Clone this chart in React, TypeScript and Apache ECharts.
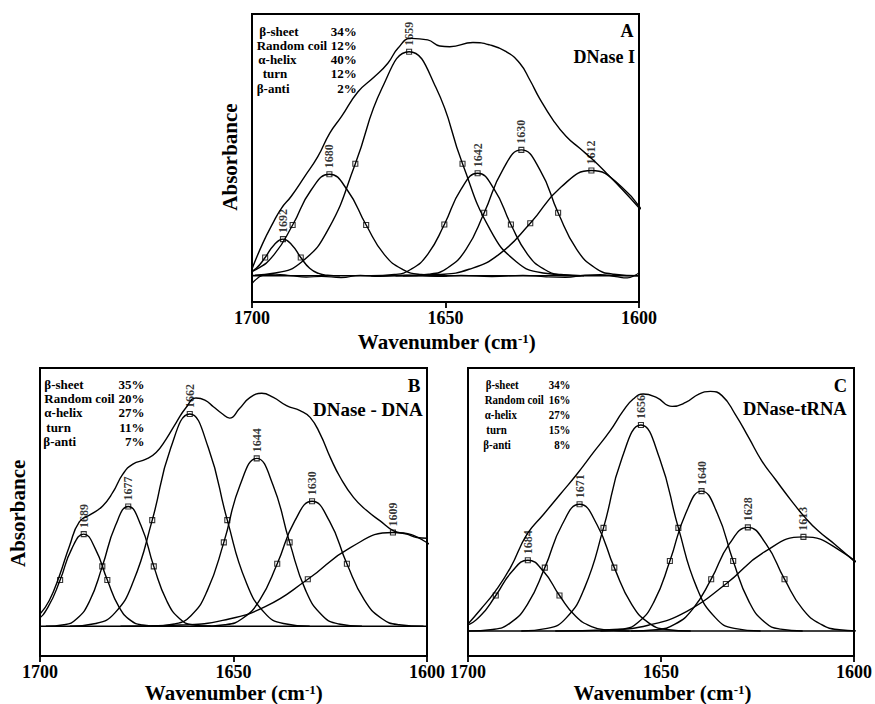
import React, { useEffect, useRef } from 'react';
import * as echarts from 'echarts';

const FONT = "'Liberation Serif', 'Times New Roman', Times, serif";

// ---------- axis ----------
const xMin = 1600;
const xMax = 1700;
const xInterval = 50;

// ---------- inset tables ----------
const structureNames = ['β-sheet', 'Random coil', 'α-helix', 'turn', 'β-anti'];
const percentsA = ['34%', '12%', '40%', '12%', '2%'];
const percentsB = ['35%', '20%', '27%', '11%', '7%'];
const percentsC = ['34%', '16%', '27%', '15%', '8%'];

// ---------- panel A : DNase I ----------
const bandLabelsA = ['1692', '1680', '1659', '1642', '1630', '1612'];
const envelopeA = [[1700, 2.6], [1697.2, 12.5], [1694.6, 20.1], [1692.4, 25.8], [1689.9, 30.3], [1686.4, 37.9], [1683.0, 45.5], [1679.9, 54.5], [1676.9, 60.8], [1672.6, 70.3], [1668.3, 76.1], [1664.9, 81.2], [1662.3, 86.9], [1658.9, 90.7], [1654.6, 90.1], [1651.5, 87.8], [1648.9, 87.5], [1642.9, 89.1], [1638.6, 88.2], [1634.3, 85.6], [1630.8, 81.2], [1628.2, 74.8], [1625.7, 67.8], [1622.2, 59.5], [1618.8, 53.2], [1615.3, 48.7], [1611.9, 44.3], [1608.4, 39.2], [1604.2, 32.8], [1600, 26.0]];
const bandA1692 = [[1706.7, 0], [1703.5, 0.2], [1701.2, 0.9], [1698.9, 2.9], [1696.6, 7.0], [1694.3, 11.8], [1692.0, 14.0], [1689.7, 11.8], [1687.4, 7.0], [1685.1, 2.9], [1682.8, 0.9], [1680.5, 0.2], [1677.3, 0]];
const bandA1680 = [[1710.4, 0], [1703.8, 0.5], [1699.0, 2.4], [1694.3, 8.1], [1689.5, 19.4], [1684.8, 32.6], [1680.0, 38.8], [1675.3, 32.6], [1670.5, 19.4], [1665.8, 8.1], [1661.0, 2.4], [1656.3, 0.5], [1649.6, 0]];
const bandA1659 = [[1703.7, 0], [1694.0, 1.1], [1687.1, 5.4], [1680.2, 18.0], [1673.3, 42.8], [1666.3, 72.0], [1659.4, 85.6], [1652.5, 72.0], [1645.6, 42.8], [1638.6, 18.0], [1631.7, 5.4], [1624.8, 1.1], [1615.1, 0]];
const bandA1642 = [[1669.2, 0], [1663.2, 0.5], [1658.9, 2.5], [1654.6, 8.2], [1650.3, 19.6], [1646.0, 33.0], [1641.7, 39.2], [1637.4, 33.0], [1633.1, 19.6], [1628.8, 8.2], [1624.5, 2.5], [1620.2, 0.5], [1614.2, 0]];
const bandA1630 = [[1661.0, 0], [1654.3, 0.6], [1649.5, 3.0], [1644.7, 10.1], [1640.0, 24.1], [1635.2, 40.5], [1630.4, 48.1], [1625.6, 40.5], [1620.9, 24.1], [1616.1, 10.1], [1611.3, 3.0], [1606.5, 0.6], [1599.8, 0]];
const bandA1612 = [[1662.9, 0], [1651.8, 0.5], [1643.9, 2.5], [1636.0, 8.4], [1628.1, 20.1], [1620.2, 33.8], [1612.3, 40.2], [1604.4, 33.8], [1596.5, 20.1], [1588.6, 8.4], [1580.7, 2.5], [1572.8, 0.5], [1561.7, 0]];
const residualA = [[1700, -3.0], [1698.5, -0.8], [1697, 0.3], [1694, 0.6], [1690, 0.1], [1686, -0.5], [1682, -0.2], [1677, -0.7], [1672, 0.2], [1667, -0.2], [1660, 0.3], [1652, -0.2], [1646, 0.2], [1638, -0.3], [1630, 0.2], [1624, -0.4], [1619, -0.6], [1614, 0.3], [1610, 0.5], [1606, -0.3], [1603, -0.8], [1601, 0.2], [1600, 1.2]];

// ---------- panel B : DNase - DNA ----------
const bandLabelsB = ['1689', '1677', '1662', '1644', '1630', '1609'];
const envelopeB = [[1700, 4.7], [1697.6, 10.0], [1695.0, 19.5], [1692.4, 31.0], [1689.8, 40.5], [1686.8, 43.4], [1683.8, 46.6], [1681.2, 51.8], [1678.6, 58.9], [1676.0, 62.8], [1672.6, 64.7], [1670.0, 67.3], [1667.4, 72.5], [1664.8, 78.9], [1662.2, 84.8], [1659.7, 88.4], [1657.4, 87.6], [1655.2, 85.0], [1653.0, 82.4], [1651.0, 80.6], [1648.5, 84.2], [1645.7, 88.6], [1642.7, 90.2], [1639.7, 88.6], [1636.3, 85.4], [1632.8, 83.5], [1630.2, 80.9], [1627.6, 74.4], [1625.0, 65.4], [1622.4, 57.6], [1619.0, 49.9], [1615.5, 44.7], [1612.1, 40.8], [1608.6, 36.9], [1605.2, 35.7], [1602.6, 34.4], [1600, 34.1]];
const bandB1689 = [[1708.2, 0], [1704.0, 0.5], [1700.9, 2.2], [1697.9, 7.5], [1694.8, 17.9], [1691.8, 30.0], [1688.7, 35.7], [1685.7, 30.0], [1682.6, 17.9], [1679.6, 7.5], [1676.5, 2.2], [1673.5, 0.5], [1669.2, 0]];
const bandB1677 = [[1698.5, 0], [1693.8, 0.6], [1690.5, 2.9], [1687.2, 9.7], [1683.9, 23.2], [1680.5, 39.0], [1677.2, 46.4], [1673.9, 39.0], [1670.6, 23.2], [1667.2, 9.7], [1663.9, 2.9], [1660.6, 0.6], [1655.9, 0]];
const bandB1662 = [[1692.3, 0], [1685.6, 1.1], [1680.7, 5.1], [1675.9, 17.3], [1671.0, 41.1], [1666.2, 69.1], [1661.3, 82.2], [1656.5, 69.1], [1651.6, 41.1], [1646.8, 17.3], [1641.9, 5.1], [1637.1, 1.1], [1630.3, 0]];
const bandB1644 = [[1671.2, 0], [1665.3, 0.9], [1661.0, 4.1], [1656.8, 13.7], [1652.5, 32.5], [1648.3, 54.7], [1644.0, 65.0], [1639.8, 54.7], [1635.5, 32.5], [1631.3, 13.7], [1627.0, 4.1], [1622.8, 0.9], [1616.8, 0]];
const bandB1630 = [[1658.5, 0], [1652.2, 0.6], [1647.7, 3.0], [1643.2, 10.2], [1638.7, 24.2], [1634.2, 40.7], [1629.7, 48.4], [1625.2, 40.7], [1620.7, 24.2], [1616.2, 10.2], [1611.7, 3.0], [1607.2, 0.6], [1600.9, 0]];
const bandB1609 = [[1679.2, 0], [1663.8, 0.5], [1652.8, 2.3], [1641.8, 7.6], [1630.8, 18.2], [1619.8, 30.5], [1608.8, 36.3], [1597.8, 30.5], [1586.8, 18.2], [1575.8, 7.6], [1564.8, 2.3], [1553.8, 0.5], [1538.4, 0]];

// ---------- panel C : DNase-tRNA ----------
const bandLabelsC = ['1684', '1671', '1656', '1640', '1628', '1613'];
const envelopeC = [[1700, 2.7], [1696.7, 8.3], [1692.9, 15.2], [1689.0, 24.1], [1684.7, 36.8], [1680.4, 44.4], [1676.1, 52.0], [1671.8, 59.6], [1667.5, 67.9], [1663.2, 76.1], [1659.8, 83.7], [1657.2, 88.2], [1654.6, 90.1], [1651.2, 88.8], [1647.1, 85.4], [1643.6, 86.9], [1640.2, 90.1], [1637.2, 91.1], [1634.2, 89.5], [1630.8, 82.5], [1627.3, 73.6], [1623.9, 64.7], [1620.4, 57.7], [1616.2, 49.5], [1612.7, 43.2], [1609.3, 38.1], [1605.0, 33.0], [1600, 26.6]];
const bandC1684 = [[1710.9, 0], [1705.1, 0.4], [1701.0, 1.7], [1696.9, 5.6], [1692.8, 13.5], [1688.6, 22.6], [1684.5, 26.9], [1680.4, 22.6], [1676.3, 13.5], [1672.1, 5.6], [1668.0, 1.7], [1663.9, 0.4], [1658.1, 0]];
const bandC1671 = [[1699.9, 0], [1693.6, 0.6], [1689.1, 3.0], [1684.6, 10.1], [1680.1, 24.1], [1675.6, 40.5], [1671.1, 48.2], [1666.6, 40.5], [1662.1, 24.1], [1657.6, 10.1], [1653.1, 3.0], [1648.6, 0.6], [1642.3, 0]];
const bandC1656 = [[1686.2, 0], [1679.5, 1.0], [1674.6, 4.9], [1669.8, 16.4], [1664.9, 39.2], [1660.1, 65.8], [1655.2, 78.3], [1650.4, 65.8], [1645.5, 39.2], [1640.7, 16.4], [1635.8, 4.9], [1631.0, 1.0], [1624.2, 0]];
const bandC1640 = [[1665.7, 0], [1660.0, 0.7], [1655.9, 3.3], [1651.8, 11.2], [1647.7, 26.6], [1643.6, 44.7], [1639.5, 53.2], [1635.4, 44.7], [1631.3, 26.6], [1627.2, 11.2], [1623.1, 3.3], [1619.0, 0.7], [1613.3, 0]];
const bandC1628 = [[1657.9, 0], [1651.3, 0.5], [1646.5, 2.5], [1641.8, 8.3], [1637.0, 19.7], [1632.3, 33.1], [1627.5, 39.4], [1622.8, 33.1], [1618.0, 19.7], [1613.3, 8.3], [1608.5, 2.5], [1603.8, 0.5], [1597.1, 0]];
const bandC1613 = [[1677.4, 0], [1663.4, 0.5], [1653.3, 2.2], [1643.3, 7.5], [1633.2, 17.9], [1623.2, 30.1], [1613.1, 35.8], [1603.1, 30.1], [1593.0, 17.9], [1583.0, 7.5], [1572.9, 2.2], [1562.9, 0.5], [1548.8, 0]];

const baseline = [[1700, 0], [1600, 0]];

const panels = [
  {
    grid: { left: 252, top: 14, width: 387, height: 288 }, yMin: -10,
    envelope: envelopeA, bands: [bandA1692, bandA1680, bandA1659, bandA1642, bandA1630, bandA1612],
    labels: bandLabelsA, residual: residualA,
  },
  {
    grid: { left: 40, top: 368, width: 387, height: 288 }, yMin: -11.5,
    envelope: envelopeB, bands: [bandB1689, bandB1677, bandB1662, bandB1644, bandB1630, bandB1609],
    labels: bandLabelsB, residual: null,
  },
  {
    grid: { left: 468, top: 368, width: 388, height: 288 }, yMin: -9.5,
    envelope: envelopeC, bands: [bandC1684, bandC1671, bandC1656, bandC1640, bandC1628, bandC1613],
    labels: bandLabelsC, residual: null,
  },
];

// text layout (pixel positions)
const tableLayouts = [
  { percents: percentsA, nameX: 256.7, indents: [2.6, 0, 1.6, 6, 0], pctRight: 356.7, y0: 31, dy: 14.3, scaleX: 1 },
  { percents: percentsB, nameX: 43.3, indents: [1, 1, 1, 3, 0], pctRight: 144.5, y0: 384, dy: 14.4, scaleX: 1 },
  { percents: percentsC, nameX: 483.3, indents: [2.4, 1.4, 1.4, 3, 0], pctRight: 570.5, y0: 385, dy: 14.8, scaleX: 0.84 },
];

const headings = [
  { letter: 'A', name: 'DNase I', lx: 633.5, ly: 31, nx: 635, ny: 57, size: 18 },
  { letter: 'B', name: 'DNase - DNA', lx: 420.5, ly: 385, nx: 422.7, ny: 409, size: 19 },
  { letter: 'C', name: 'DNase-tRNA', lx: 847, ly: 385.5, nx: 846.7, ny: 409, size: 18.5 },
];

const xTitles = [
  { x: 446.7, y: 341.7 },
  { x: 233.7, y: 692.5 },
  { x: 662.5, y: 692.5 },
];

const yTitles = [
  { x: 230, y: 157 },
  { x: 18.3, y: 513.3 },
];

function txt(x: number, y: number, text: string, size: number, align: string, extra: any = {}) {
  return {
    type: 'text',
    x,
    y,
    silent: true,
    ...extra,
    style: {
      text,
      fill: '#000',
      fontSize: size,
      fontWeight: 'bold',
      fontFamily: FONT,
      textAlign: align,
      align,
      textVerticalAlign: 'middle',
      verticalAlign: 'middle',
      ...(extra.style || {}),
    },
  };
}

function buildOption() {
  const grid: any[] = [];
  const xAxis: any[] = [];
  const yAxis: any[] = [];
  const series: any[] = [];
  const inRange = (p: number[]) => p[0] <= xMax && p[0] >= xMin;

  panels.forEach((p, i) => {
    grid.push({ ...p.grid, show: true, borderColor: '#000', borderWidth: 2, backgroundColor: 'transparent' });
    xAxis.push({
      gridIndex: i, type: 'value', min: xMin, max: xMax, interval: xInterval, inverse: true,
      position: 'bottom',
      axisLine: { show: true, onZero: false, lineStyle: { color: '#000', width: 2 } },
      axisTick: { show: true, inside: false, length: 6, lineStyle: { color: '#000', width: 1.8 } },
      axisLabel: {
        show: true, margin: 7, fontSize: 18, lineHeight: 18, fontWeight: 'bold', fontFamily: FONT, color: '#000',
        formatter: (v: number) => String(v),
      },
      splitLine: { show: false },
    });
    yAxis.push({ gridIndex: i, type: 'value', min: p.yMin, max: 100, show: false, splitLine: { show: false } });

    const lineBase = {
      type: 'line', xAxisIndex: i, yAxisIndex: i, symbol: 'none', showSymbol: false,
      silent: true, clip: true,
    };
    series.push({ ...lineBase, data: baseline, lineStyle: { color: '#000', width: 1.4 } });
    if (p.residual) {
      series.push({ ...lineBase, data: p.residual, smooth: 0.5, lineStyle: { color: '#000', width: 1.2 } });
    }
    p.bands.forEach((b) => {
      series.push({ ...lineBase, data: b, smooth: 0.5, lineStyle: { color: '#000', width: 1.4 } });
    });
    series.push({ ...lineBase, data: p.envelope, smooth: 0.5, lineStyle: { color: '#000', width: 1.4 } });

    const halves: number[][] = [];
    p.bands.forEach((b) => { halves.push(b[4], b[8]); });
    series.push({
      type: 'scatter', xAxisIndex: i, yAxisIndex: i, silent: true, clip: true,
      data: halves.filter(inRange),
      symbol: 'rect', symbolSize: 5,
      itemStyle: { color: '#fff', borderColor: '#000', borderWidth: 1.1 },
    });
    series.push({
      type: 'scatter', xAxisIndex: i, yAxisIndex: i, silent: true, clip: true,
      data: p.bands.map((b, k) => ({ value: b[6], name: p.labels[k] })),
      symbol: 'rect', symbolSize: 5,
      itemStyle: { color: '#fff', borderColor: '#000', borderWidth: 1.1 },
      label: {
        show: true, formatter: '{b}', position: 'top', rotate: 90, align: 'left', verticalAlign: 'middle',
        distance: 3, fontSize: 12, fontWeight: 'bold', fontFamily: FONT, color: '#000',
      },
    });
  });

  const elements: any[] = [];
  tableLayouts.forEach((t) => {
    structureNames.forEach((n, r) => {
      const y = t.y0 + r * t.dy;
      elements.push(txt(t.nameX + t.indents[r], y, n, 13, 'left', { scaleX: t.scaleX }));
      elements.push(txt(t.pctRight, y, t.percents[r], 13, 'right', { scaleX: t.scaleX }));
    });
  });
  headings.forEach((h) => {
    elements.push(txt(h.lx, h.ly, h.letter, h.size, 'right'));
    elements.push(txt(h.nx, h.ny, h.name, h.size, 'right'));
  });
  xTitles.forEach((t) => {
    elements.push(txt(t.x, t.y, 'Wavenumber (cm{sup|-1})', 21, 'center', {
      style: {
        lineHeight: 20,
        rich: {
          sup: { fontSize: 13, lineHeight: 20, fontWeight: 'bold', fontFamily: FONT, fill: '#000', verticalAlign: 'top' },
        },
      },
    }));
  });
  yTitles.forEach((t) => {
    elements.push(txt(t.x, t.y, 'Absorbance', 21, 'center', { rotation: Math.PI / 2 }));
  });

  return {
    animation: false,
    backgroundColor: '#fff',
    grid, xAxis, yAxis, series,
    graphic: { elements },
  };
}

export default function App() {
  const ref = useRef<HTMLDivElement>(null);
  useEffect(() => {
    if (!ref.current) return;
    const chart = echarts.init(ref.current, undefined, { renderer: 'svg' });
    chart.setOption(buildOption() as any);
    return () => chart.dispose();
  }, []);
  return (
    <div
      ref={ref}
      style={{ position: 'absolute', left: 0, top: 0, width: 875, height: 704, background: '#fff' }}
    />
  );
}
